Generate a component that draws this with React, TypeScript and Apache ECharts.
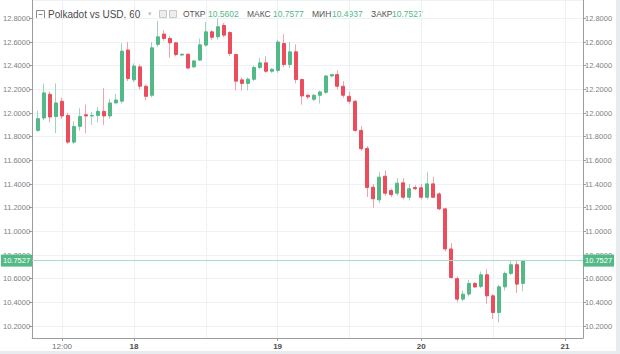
import React, { useEffect, useRef } from 'react';
import * as echarts from 'echarts';

// Hourly candles, hour offsets relative to day 18, 00:00 (first = 17th, 08:00)
const firstHour = -16;
const lastSlotHour = 75;
const opens = [
  11.853, 11.958, 12.158, 11.970, 12.099, 11.980, 11.754, 11.887, 11.985, 11.975,
  11.980, 12.014, 11.975, 12.085, 12.100, 12.532, 12.280, 12.390, 12.226, 12.150,
  12.580, 12.667, 12.630, 12.593, 12.490, 12.497, 12.390, 12.447, 12.574, 12.686,
  12.644, 12.740, 12.680, 12.495, 12.280, 12.250, 12.285, 12.385, 12.424, 12.353,
  12.360, 12.588, 12.410, 12.517, 12.283, 12.150, 12.116, 12.150, 12.175, 12.313,
  12.325, 12.226, 12.141, 12.099, 11.853, 11.700, 11.373, 11.266, 11.466, 11.345,
  11.322, 11.410, 11.288, 11.370, 11.368, 11.288, 11.401, 11.316, 11.190, 10.851,
  10.600, 10.427, 10.470, 10.560, 10.535, 10.633, 10.455, 10.314, 10.531, 10.644,
  10.718, 10.5602,
];
const closes = [
  11.952, 12.170, 11.966, 12.085, 11.975, 11.754, 11.887, 11.970, 11.975, 11.980,
  12.014, 11.975, 12.085, 12.110, 12.523, 12.291, 12.397, 12.226, 12.141, 12.551,
  12.644, 12.630, 12.593, 12.494, 12.497, 12.380, 12.440, 12.576, 12.686, 12.640,
  12.729, 12.658, 12.503, 12.269, 12.250, 12.286, 12.385, 12.424, 12.353, 12.370,
  12.600, 12.410, 12.517, 12.283, 12.144, 12.136, 12.150, 12.178, 12.313, 12.325,
  12.226, 12.150, 12.099, 11.853, 11.698, 11.370, 11.275, 11.458, 11.322, 11.310,
  11.407, 11.288, 11.360, 11.360, 11.288, 11.401, 11.288, 11.190, 10.851, 10.610,
  10.427, 10.469, 10.560, 10.530, 10.633, 10.455, 10.314, 10.531, 10.644, 10.718,
  10.554, 10.7527,
];
const lows = [
  11.84, 11.94, 11.92, 11.83, 11.95, 11.74, 11.74, 11.85, 11.83, 11.90,
  11.92, 11.90, 11.95, 12.08, 12.08, 12.27, 12.26, 12.20, 12.108, 12.13,
  12.56, 12.61, 12.466, 12.48, 12.48, 12.37, 12.38, 12.44, 12.56, 12.62,
  12.62, 12.64, 12.48, 12.19, 12.19, 12.19, 12.27, 12.37, 12.34, 12.34,
  12.34, 12.39, 12.38, 12.25, 12.07, 12.12, 12.10, 12.08, 12.16, 12.30,
  12.20, 12.13, 12.08, 11.84, 11.68, 11.29, 11.20, 11.24, 11.30, 11.29,
  11.30, 11.27, 11.26, 11.35, 11.27, 11.27, 11.28, 11.18, 10.83, 10.60,
  10.40, 10.41, 10.45, 10.52, 10.52, 10.39, 10.26, 10.23, 10.50, 10.63,
  10.48, 10.4937,
];
const highs = [
  12.02, 12.25, 12.18, 12.25, 12.13, 12.00, 11.93, 12.04, 12.07, 12.01,
  12.05, 12.21, 12.12, 12.16, 12.59, 12.60, 12.42, 12.41, 12.24, 12.60,
  12.78, 12.70, 12.65, 12.60, 12.50, 12.50, 12.45, 12.63, 12.77, 12.70,
  12.80, 12.76, 12.69, 12.50, 12.30, 12.30, 12.40, 12.466, 12.48, 12.38,
  12.62, 12.665, 12.60, 12.58, 12.29, 12.16, 12.16, 12.19, 12.32, 12.33,
  12.36, 12.27, 12.18, 12.11, 11.89, 11.72, 11.40, 11.50, 11.515, 11.36,
  11.45, 11.45, 11.40, 11.39, 11.40, 11.50, 11.46, 11.33, 11.20, 10.90,
  10.62, 10.50, 10.59, 10.57, 10.66, 10.68, 10.47, 10.55, 10.66, 10.75,
  10.75, 10.7577,
];

const xTickHours = [-12, 0, 24, 48, 72];
const xTickLabels = ['12:00', '18', '19', '20', '21'];
const xGridHours = [-12, 0, 12, 24, 36, 48, 60, 72];
const yMin = 10.0986;
const yMax = 12.955;
const lastPrice = 10.7527;
const titleText = 'Polkadot vs USD, 60';
const legendNames = ['ОТКР', 'МАКС', 'МИН', 'ЗАКР'];
const legendValues = ['10.5602', '10.7577', '10.4937', '10.7527'];

const UP = '#53b987';
const DOWN = '#eb4d5c';
const WICK_UP = '#9fd6bb';
const WICK_DOWN = '#f3a3ab';
const FONT = '"Liberation Sans", Arial, sans-serif';

export default function App() {
  const ref = useRef<HTMLDivElement>(null);
  useEffect(() => {
    document.body.style.margin = '0';
    if (!ref.current) return;
    const chart = echarts.init(ref.current, undefined, { renderer: 'svg' });

    // one empty slot before the first candle, then hourly slots
    const categories: string[] = [];
    for (let h = firstHour - 1; h <= lastSlotHour; h++) categories.push(String(h));
    const empty = ['-', '-', '-', '-'];
    const wickData = [empty, ...opens.map((o, i) => [o, closes[i], lows[i], highs[i]])];
    const bodyData = [empty, ...opens.map((o, i) => [o, closes[i], Math.min(o, closes[i]), Math.max(o, closes[i])])];

    const isTick = (v: string) => xTickHours.indexOf(Number(v)) >= 0;
    const isGrid = (v: string) => xGridHours.indexOf(Number(v)) >= 0;

    const yAxisFor = (pos: 'left' | 'right') => ({
      type: 'value',
      position: pos,
      min: yMin,
      max: yMax,
      splitNumber: 14,
      axisLine: { show: true, lineStyle: { color: '#9c9c9c' } },
      axisTick: { show: true, length: 3, lineStyle: { color: '#9c9c9c' } },
      axisLabel: {
        showMinLabel: false,
        showMaxLabel: false,
        formatter: (v: number) => v.toFixed(4),
        color: '#808080',
        fontSize: 7.5,
        margin: 2,
        fontFamily: FONT,
      },
      splitLine: { show: pos === 'left', lineStyle: { color: '#eef1f5' } },
      axisPointer: {
        show: true,
        status: 'show',
        value: lastPrice,
        type: 'line',
        triggerTooltip: false,
        lineStyle: { color: '#a8dcc5', width: 1, type: 'solid' },
        label: {
          show: true,
          formatter: (p: any) => Number(p.value).toFixed(4),
          backgroundColor: UP,
          color: '#ffffff',
          fontSize: 7.5,
          fontFamily: FONT,
          padding: [2, 2, 2, 2],
          margin: 0,
          borderRadius: 0,
        },
      },
    });

    const legendX = [183, 208, 247, 273, 312, 332, 371, 392];
    const legendEls: any[] = [];
    legendNames.forEach((n, i) => {
      legendEls.push({
        type: 'text', x: legendX[i * 2], y: 14,
        style: { text: n, fill: '#555', fontSize: 8.5, fontFamily: FONT, verticalAlign: 'middle' },
      });
      legendEls.push({
        type: 'text', x: legendX[i * 2 + 1], y: 14,
        style: { text: legendValues[i], fill: UP, fontSize: 8.5, fontFamily: FONT, verticalAlign: 'middle' },
      });
    });

    chart.setOption({
      animation: false,
      backgroundColor: '#ffffff',
      textStyle: { fontFamily: FONT },
      axisPointer: { triggerOn: 'none' },
      grid: { left: 31, right: 37, top: 0, bottom: 16 },
      xAxis: {
        type: 'category',
        data: categories,
        boundaryGap: false,
        axisLine: { lineStyle: { color: '#9c9c9c' } },
        axisTick: { show: true, interval: (_i: number, v: string) => isTick(v), length: 3, lineStyle: { color: '#9c9c9c' } },
        axisLabel: {
          interval: (_i: number, v: string) => isTick(v),
          formatter: (v: string) => {
            const k = xTickHours.indexOf(Number(v));
            if (k < 0) return '';
            const t = xTickLabels[k];
            return t.indexOf(':') >= 0 ? '{n|' + t + '}' : '{b|' + t + '}';
          },
          margin: 4,
          rich: {
            n: { color: '#6f6f6f', fontSize: 8, fontFamily: FONT },
            b: { color: '#4a4a4a', fontSize: 8, fontWeight: 'bold', fontFamily: FONT },
          },
        },
        splitLine: { show: true, interval: (_i: number, v: string) => isGrid(v), lineStyle: { color: '#eef1f5' } },
      },
      yAxis: [yAxisFor('left'), yAxisFor('right')],
      series: [
        {
          type: 'candlestick',
          name: 'wicks',
          barWidth: 1,
          silent: true,
          data: wickData,
          itemStyle: { color: WICK_UP, color0: WICK_DOWN, borderColor: WICK_UP, borderColor0: WICK_DOWN, borderWidth: 1 },
        },
        {
          type: 'candlestick',
          name: 'Polkadot',
          barWidth: 3.5,
          data: bodyData,
          itemStyle: { color: UP, color0: DOWN, borderColor: UP, borderColor0: DOWN, borderWidth: 1 },
        },
      ],
      graphic: [
        { type: 'rect', shape: { x: 616, y: 0, width: 4, height: 354 }, style: { fill: '#e9ecef' }, silent: true },
        { type: 'rect', shape: { x: 0, y: 351, width: 620, height: 3 }, style: { fill: '#e9ecef' }, silent: true },
        { type: 'rect', shape: { x: 36.5, y: 10.5, width: 8, height: 8 }, style: { fill: '#fff', stroke: '#8a8a8a', lineWidth: 1 } },
        { type: 'line', shape: { x1: 38.5, y1: 14.5, x2: 42.5, y2: 14.5 }, style: { stroke: '#8a8a8a', lineWidth: 1 } },
        {
          type: 'text', x: 48, y: 14,
          style: { text: titleText, fill: '#4a4a4a', fontSize: 10, fontFamily: FONT, verticalAlign: 'middle' },
        },
        {
          type: 'text', x: 148, y: 14,
          style: { text: '▾', fill: '#c0c0c0', fontSize: 7, fontFamily: '"DejaVu Sans"', verticalAlign: 'middle' },
        },
        { type: 'rect', shape: { x: 159.5, y: 10.5, width: 7, height: 7 }, style: { fill: '#eeeeee', stroke: '#c8c8c8', lineWidth: 1 } },
        { type: 'rect', shape: { x: 169.5, y: 10.5, width: 7, height: 7 }, style: { fill: '#eeeeee', stroke: '#c8c8c8', lineWidth: 1 } },
        ...legendEls,
      ],
    });
    return () => chart.dispose();
  }, []);
  return <div ref={ref} style={{ width: 620, height: 354 }} />;
}
